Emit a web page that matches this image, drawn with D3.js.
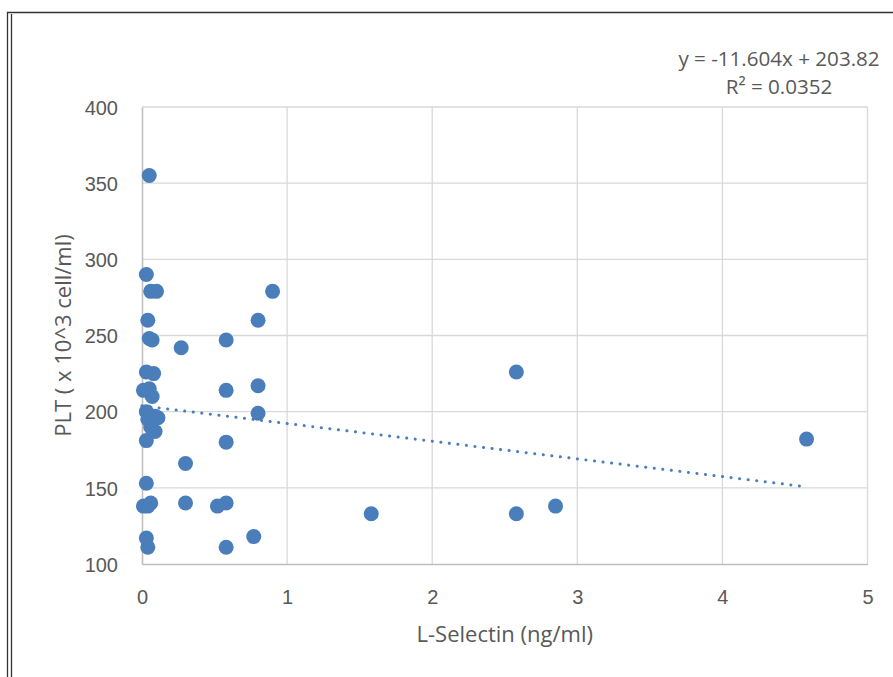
<!DOCTYPE html>
<html>
<head>
<meta charset="utf-8">
<script src="https://cdn.jsdelivr.net/npm/d3@7"></script>
<style>
    body { margin: 0; background: #fff; }
    svg { display: block; font-family: "Open Sans", sans-serif; }
</style>
</head>
<body>
<div id="chart"></div>
<script>
// L-Selectin (ng/ml) vs PLT
const lSelectin = [0.05, 0.03, 0.06, 0.10, 0.04, 0.05, 0.07, 0.27, 0.58, 0.80, 0.90,
    0.03, 0.08, 0.01, 0.05, 0.07, 0.58, 0.80, 0.03, 0.04, 0.09, 0.11, 0.06, 0.80,
    0.09, 0.03, 0.58, 0.30, 0.03, 0.01, 0.04, 0.06, 0.30, 0.52, 0.58, 0.77, 0.03,
    0.04, 0.58, 1.58, 2.58, 2.58, 2.85, 4.58];
const plt = [355, 290, 279, 279, 260, 248, 247, 242, 247, 260, 279,
    226, 225, 214, 215, 210, 214, 217, 200, 195, 197, 196, 190, 199,
    187, 181, 180, 166, 153, 138, 138, 140, 140, 138, 140, 118, 117,
    111, 111, 133, 226, 133, 138, 182];

const xTicks = [0, 1, 2, 3, 4, 5];
const yTicks = [100, 150, 200, 250, 300, 350, 400];
const slope = -11.604, intercept = 203.82;
const trendLabel = "y = -11.604x + 203.82";
const r2Label = "R² = 0.0352";

const width = 893, height = 677;
const margin = {left: 142, right: 25.5, top: 107, bottom: 113};
const blue = "#4a7ebb";
const grey = "#595959";
const fontSize = "20px";
const titleSize = "22px";

const svg = d3.select("#chart").append("svg")
    .attr("width", width)
    .attr("height", height);

// frame lines at the left and top edges
svg.append("path").attr("d", "M7.5,677 V12.5 H893")
    .attr("fill", "none").attr("stroke", "#333").attr("stroke-width", 1.3);
svg.append("path").attr("d", "M11.5,677 V14")
    .attr("fill", "none").attr("stroke", "#333").attr("stroke-width", 1.3);

let x = d3.scaleLinear().domain([0, 5]).range([margin.left, width - margin.right]);
let y = d3.scaleLinear().domain([100, 400]).range([height - margin.bottom, margin.top]);

// gridlines
svg.append("g")
    .selectAll("line")
    .data(xTicks.slice(1))
    .enter().append("line")
    .attr("x1", d => x(d)).attr("x2", d => x(d))
    .attr("y1", y(100)).attr("y2", y(400))
    .attr("stroke", "#d9d9d9").attr("stroke-width", 1.3);

svg.append("g")
    .selectAll("line")
    .data(yTicks.slice(1))
    .enter().append("line")
    .attr("x1", x(0)).attr("x2", x(5))
    .attr("y1", d => y(d)).attr("y2", d => y(d))
    .attr("stroke", "#d9d9d9").attr("stroke-width", 1.3);

// axes
let xAxis = svg.append("g")
    .attr("transform", "translate(0," + y(100) + ")")
    .call(d3.axisBottom(x).tickValues(xTicks).tickSize(0).tickPadding(22).tickFormat(d3.format("d")));
let yAxis = svg.append("g")
    .attr("transform", "translate(" + x(0) + ",0)")
    .call(d3.axisLeft(y).tickValues(yTicks).tickSize(0).tickPadding(24).tickFormat(d3.format("d")));

[xAxis, yAxis].forEach(a => {
    a.select(".domain").attr("stroke", "#bfbfbf").attr("stroke-width", 1.6);
    a.selectAll("text").attr("fill", grey).style("font-size", fontSize)
        .style("font-family", null);
});
xAxis.selectAll("text").attr("dy", null).attr("y", 40);
yAxis.selectAll("text").attr("dy", "0.36em");

// axis titles
svg.append("text")
    .attr("x", (x(0) + x(5)) / 2)
    .attr("y", 642)
    .attr("text-anchor", "middle")
    .attr("fill", grey)
    .style("font-size", titleSize)
    .text("L-Selectin (ng/ml)");

svg.append("text")
    .attr("transform", "translate(71," + ((y(100) + y(400)) / 2) + ") rotate(-90)")
    .attr("text-anchor", "middle")
    .attr("fill", grey)
    .style("font-size", titleSize)
    .text("PLT ( x 10^3 cell/ml)");

// linear trendline
let xMax = d3.max(lSelectin);
svg.append("line")
    .attr("x1", x(0)).attr("y1", y(intercept))
    .attr("x2", x(xMax)).attr("y2", y(intercept + slope * xMax))
    .attr("stroke", blue)
    .attr("stroke-width", 3)
    .attr("stroke-linecap", "round")
    .attr("stroke-dasharray", "0.1 8.5");

// points
svg.append("g")
    .selectAll("circle")
    .data(lSelectin.map((d, i) => [d, plt[i]]))
    .enter().append("circle")
    .attr("cx", d => x(d[0]))
    .attr("cy", d => y(d[1]))
    .attr("r", 7.5)
    .attr("fill", blue);

// equation label
svg.append("text")
    .attr("x", 779).attr("y", 66)
    .attr("text-anchor", "middle")
    .attr("fill", grey)
    .style("font-size", "20.6px")
    .text(trendLabel);
svg.append("text")
    .attr("x", 779).attr("y", 94)
    .attr("text-anchor", "middle")
    .attr("fill", grey)
    .style("font-size", "20.6px")
    .text(r2Label);
</script>
</body>
</html>
